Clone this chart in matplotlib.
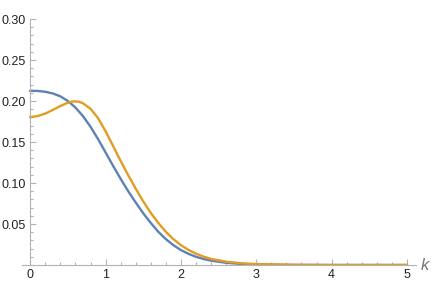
import matplotlib
matplotlib.use("Agg")
import matplotlib.pyplot as plt
from matplotlib.ticker import MultipleLocator, FixedLocator

# values
k_blue = [0, 0.1, 0.2, 0.3, 0.4, 0.5, 0.6, 0.7, 0.8, 0.9, 1.0, 1.1, 1.2, 1.3, 1.4,
          1.5, 1.6, 1.7, 1.8, 1.9, 2.0, 2.1, 2.2, 2.3, 2.4, 2.6, 2.8, 3.0, 3.5,
          4.0, 5.0]
blue = [0.2125, 0.2123, 0.2113, 0.2092, 0.2057, 0.2000, 0.1920, 0.1815, 0.1685,
        0.1535, 0.1372, 0.1208, 0.1050, 0.0900, 0.0762, 0.0630, 0.0512, 0.0405,
        0.0315, 0.0242, 0.0182, 0.0136, 0.0100, 0.0073, 0.0053, 0.0027, 0.0013,
        0.0006, 0.0001, 0.0, 0.0]

k_orange = [0, 0.1, 0.2, 0.3, 0.4, 0.5, 0.55, 0.6, 0.65, 0.7, 0.8, 0.9, 1.0, 1.1,
            1.2, 1.3, 1.4, 1.5, 1.6, 1.7, 1.8, 1.9, 2.0, 2.1, 2.2, 2.3, 2.4, 2.6,
            2.8, 3.0, 3.5, 4.0, 5.0]
orange = [0.1805, 0.1817, 0.1848, 0.1892, 0.1940, 0.1980, 0.1993, 0.1996, 0.1990,
          0.1972, 0.1905, 0.1790, 0.1630, 0.1450, 0.1268, 0.1095, 0.0930, 0.0775,
          0.0635, 0.0512, 0.0405, 0.0315, 0.0242, 0.0184, 0.0138, 0.0102, 0.0075,
          0.0040, 0.0021, 0.0011, 0.0002, 0.0, 0.0]

x_ticks = [0, 1, 2, 3, 4, 5]
y_ticks = [0.05, 0.10, 0.15, 0.20, 0.25, 0.30]

axis_gray = "#b3b3b3"
plt.rcParams["font.family"] = ["Liberation Sans", "DejaVu Sans"]

fig = plt.figure(figsize=(4.36, 2.84), dpi=100)
ax = fig.add_axes([0.0505, 0.0669, 0.9035, 0.866])

ax.plot(k_blue, blue, color="#5E81B5", lw=1.7, solid_joinstyle="round")
ax.plot(k_orange, orange, color="#E19C24", lw=1.7, solid_joinstyle="round")

ax.set_xlim(-0.11, 5.12)
ax.set_ylim(0, 0.30)

for s in ("top", "right"):
    ax.spines[s].set_visible(False)
ax.spines["left"].set_position(("data", 0))
ax.spines["bottom"].set_position(("data", 0))
for s in ("left", "bottom"):
    ax.spines[s].set_color(axis_gray)
    ax.spines[s].set_linewidth(0.8)

ax.xaxis.set_major_locator(FixedLocator(x_ticks))
ax.xaxis.set_minor_locator(MultipleLocator(0.2))
ax.yaxis.set_major_locator(FixedLocator(y_ticks))
ax.yaxis.set_minor_locator(MultipleLocator(0.01))
ax.set_xticklabels([str(v) for v in x_ticks])
ax.set_yticklabels([f"{v:.2f}" for v in y_ticks])

ax.tick_params(which="both", direction="in", color=axis_gray, width=0.8,
               labelsize=9, labelcolor="#222222")
ax.tick_params(which="major", length=4, pad=3)
ax.tick_params(which="minor", length=2)

ax.text(5.19, 0.0, "k", style="italic", color="#777777", fontsize=12,
        ha="left", va="center", transform=ax.transData, clip_on=False)

fig.savefig("out.png", dpi=100)
